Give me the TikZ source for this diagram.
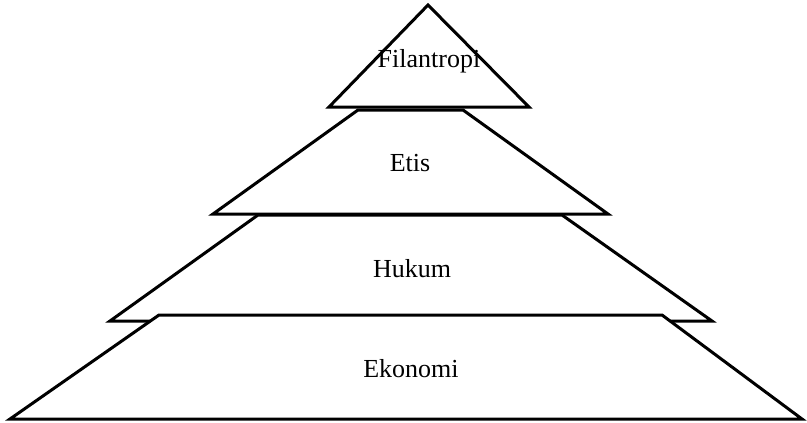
\documentclass[tikz,border=0pt]{standalone}
\usepackage{fontspec}
\setmainfont{Liberation Serif}
\begin{document}
\begin{tikzpicture}[x=1pt,y=-1pt,
  layer/.style={draw=black,fill=white,line width=3pt,line join=miter},
  lbl/.style={anchor=base,inner sep=0pt,font=\fontsize{26}{30}\selectfont}]
\useasboundingbox (0,0) rectangle (807,423);
% Hukum
\draw[layer] (258,215) -- (562,215) -- (712,321) -- (110,321) -- cycle;
% Ekonomi
\draw[layer] (159,315) -- (662,315) -- (802,419) -- (10,419) -- cycle;
% Etis
\draw[layer] (358,110) -- (463,110) -- (608,214) -- (213,214) -- cycle;
% Filantropi
\draw[layer] (428,5) -- (529,107) -- (329,107) -- cycle;
\node[lbl] (fil) at (429,67) {Filantropi};
\node[lbl] (etis) at (410,171) {Etis};
\node[lbl] (huk) at (412,277) {Hukum};
\node[lbl] (eko) at (411,377) {Ekonomi};
\end{tikzpicture}
\end{document}
